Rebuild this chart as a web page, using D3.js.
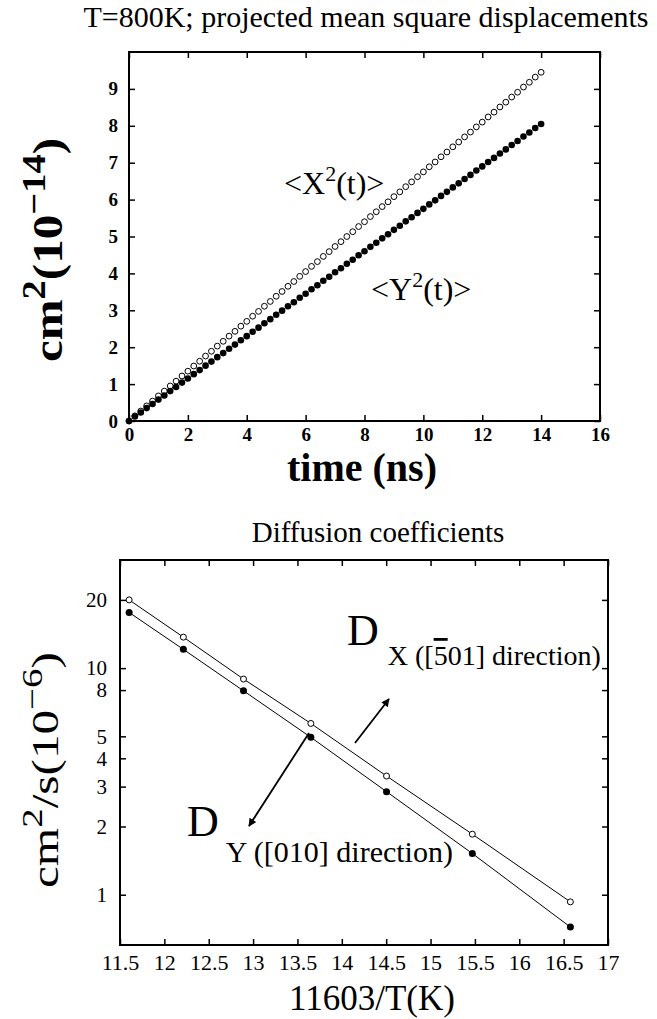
<!DOCTYPE html>
<html><head><meta charset="utf-8">
<script src="https://cdn.jsdelivr.net/npm/d3@7"></script>
<style>body{margin:0;background:#fff;} svg{display:block;} text{font-family:"Liberation Serif","Times New Roman",Times,"DejaVu Serif",serif;}</style>
</head><body>
<script>
// ---- Top chart data: projected mean square displacements (10^-14 cm^2) ----
const time = [0,0.2,0.4,0.6,0.8,1,1.2,1.4,1.6,1.8,2,2.2,2.4,2.6,2.8,3,3.2,3.4,3.6,3.8,4,4.2,4.4,4.6,4.8,5,5.2,5.4,5.6,5.8,6,6.2,6.4,6.6,6.8,7,7.2,7.4,7.6,7.8,8,8.2,8.4,8.6,8.8,9,9.2,9.4,9.6,9.8,10,10.2,10.4,10.6,10.8,11,11.2,11.4,11.6,11.8,12,12.2,12.4,12.6,12.8,13,13.2,13.4,13.6,13.8,14];
const msdX = [0,0.14,0.27,0.41,0.54,0.68,0.81,0.95,1.08,1.22,1.35,1.49,1.62,1.76,1.89,2.03,2.16,2.30,2.43,2.57,2.70,2.84,2.97,3.11,3.24,3.38,3.51,3.65,3.78,3.92,4.05,4.19,4.32,4.46,4.59,4.73,4.86,5.00,5.13,5.27,5.40,5.54,5.67,5.81,5.94,6.08,6.21,6.35,6.48,6.62,6.75,6.89,7.02,7.16,7.29,7.43,7.56,7.70,7.83,7.97,8.10,8.24,8.37,8.51,8.64,8.78,8.91,9.05,9.18,9.32,9.45];
const msdY = [0,0.12,0.23,0.35,0.46,0.58,0.69,0.81,0.92,1.04,1.15,1.27,1.38,1.50,1.61,1.73,1.84,1.96,2.07,2.19,2.30,2.42,2.53,2.65,2.76,2.88,2.99,3.11,3.22,3.34,3.45,3.57,3.68,3.80,3.91,4.03,4.14,4.26,4.37,4.49,4.60,4.72,4.83,4.95,5.06,5.18,5.29,5.41,5.52,5.64,5.75,5.87,5.98,6.10,6.21,6.33,6.44,6.56,6.67,6.79,6.90,7.02,7.13,7.25,7.36,7.48,7.59,7.71,7.82,7.94,8.05];
const topXTicks = [0,2,4,6,8,10,12,14,16];
const topYTicks = [0,1,2,3,4,5,6,7,8,9];

// ---- Bottom chart data: diffusion coefficients (10^-6 cm^2/s) ----
const invT = [11.603,12.214,12.892,13.651,14.504,15.471,16.576];
const Dx = [20.0,13.7,8.95,5.7,3.34,1.85,0.93];
const Dy = [17.6,12.1,7.94,4.95,2.85,1.52,0.72];
const botXTicks = [11.5,12,12.5,13,13.5,14,14.5,15,15.5,16,16.5,17];
const botYTicks = [1,2,3,4,5,8,10,20];

const SERIF = '"Liberation Serif","Times New Roman",Times,"DejaVu Serif",serif';
const W = 657, H = 1019;
const svg = d3.select("body").append("svg").attr("width", W).attr("height", H)
  .attr("font-family", SERIF);

function styleAxis(g, size, bold) {
  g.attr("font-family", SERIF);
  g.select(".domain").remove();
  g.selectAll("text").attr("font-size", size).attr("font-family", SERIF)
    .attr("font-weight", bold ? "bold" : "normal").attr("fill", "#000");
  g.selectAll(".tick line").attr("stroke", "#000").attr("stroke-width", 1.5);
}

// ================= TOP CHART =================
const t1 = {l:129, r:600, t:52, b:421};
const x1 = d3.scaleLinear().domain([0,16]).range([t1.l,t1.r]);
const y1 = d3.scaleLinear().domain([0,10]).range([t1.b,t1.t]);
const g1 = svg.append("g");

g1.append("g").attr("transform",`translate(0,${t1.b})`)
  .call(d3.axisBottom(x1).tickValues(topXTicks).tickSizeInner(-6).tickSizeOuter(0).tickPadding(7).tickFormat(d3.format("d")))
  .call(g=>styleAxis(g,19,true));
g1.append("g").attr("transform",`translate(0,${t1.t})`)
  .call(d3.axisTop(x1).tickValues(topXTicks).tickSizeInner(-6).tickSizeOuter(0).tickFormat(""))
  .call(g=>styleAxis(g,19,true));
g1.append("g").attr("transform",`translate(${t1.l},0)`)
  .call(d3.axisLeft(y1).tickValues(topYTicks).tickSizeInner(-6).tickSizeOuter(0).tickPadding(11).tickFormat(d3.format("d")))
  .call(g=>styleAxis(g,19,true));
g1.append("g").attr("transform",`translate(${t1.r},0)`)
  .call(d3.axisRight(y1).tickValues(topYTicks).tickSizeInner(-6).tickSizeOuter(0).tickFormat(""))
  .call(g=>styleAxis(g,19,true));
g1.append("rect").attr("x",t1.l).attr("y",t1.t).attr("width",t1.r-t1.l).attr("height",t1.b-t1.t)
  .attr("fill","none").attr("stroke","#000").attr("stroke-width",2);

g1.append("g").selectAll("circle").data(time).join("circle")
  .attr("cx",(d)=>x1(d)).attr("cy",(d,i)=>y1(msdX[i])).attr("r",2.9)
  .attr("fill","#fff").attr("stroke","#000").attr("stroke-width",1);
g1.append("g").selectAll("circle").data(time).join("circle")
  .attr("cx",(d)=>x1(d)).attr("cy",(d,i)=>y1(msdY[i])).attr("r",3.3)
  .attr("fill","#000");

// titles and labels
svg.append("text").attr("x",366).attr("y",27).attr("text-anchor","middle").attr("font-size",30).text("T=800K; projected mean square displacements");
svg.append("text").attr("x",362).attr("y",481).attr("text-anchor","middle").attr("font-size",40).attr("font-weight","bold").text("time (ns)");
{
  const t = svg.append("text").attr("transform","translate(62,250) rotate(-90)").attr("text-anchor","middle")
    .attr("font-size",42).attr("font-weight","bold").attr("textLength",224).attr("lengthAdjust","spacingAndGlyphs");
  t.append("tspan").text("cm");
  t.append("tspan").attr("dy",-17).attr("font-size",33).text("2");
  t.append("tspan").attr("dy",17).text("(10");
  t.append("tspan").attr("dy",-17).attr("font-size",33).text("\u221214");
  t.append("tspan").attr("dy",17).text(")");
}
{
  const t = svg.append("text").attr("x",284).attr("y",194).attr("font-size",32);
  t.append("tspan").text("<X");
  t.append("tspan").attr("dy",-13).attr("font-size",22).text("2");
  t.append("tspan").attr("dy",13).text("(t)>");
}
{
  const t = svg.append("text").attr("x",371).attr("y",300).attr("font-size",32);
  t.append("tspan").text("<Y");
  t.append("tspan").attr("dy",-13).attr("font-size",22).text("2");
  t.append("tspan").attr("dy",13).text("(t)>");
}

// ================= BOTTOM CHART =================
const b2 = {l:120, r:608, t:560, b:945};
const x2 = d3.scaleLinear().domain([11.5,17]).range([b2.l,b2.r]);
const y2 = d3.scaleLog().domain([0.6,30]).range([b2.b,b2.t]);
const g2 = svg.append("g");
g2.append("g").attr("transform",`translate(0,${b2.b})`)
  .call(d3.axisBottom(x2).tickValues(botXTicks).tickSizeInner(-6).tickSizeOuter(0).tickPadding(9).tickFormat(d=>String(d)))
  .call(g=>styleAxis(g,22,false));
g2.append("g").attr("transform",`translate(0,${b2.t})`)
  .call(d3.axisTop(x2).tickValues(botXTicks).tickSizeInner(-6).tickSizeOuter(0).tickFormat(""))
  .call(g=>styleAxis(g,22,false));
g2.append("g").attr("transform",`translate(${b2.l},0)`)
  .call(d3.axisLeft(y2).tickValues(botYTicks).tickSizeInner(-6).tickSizeOuter(0).tickPadding(13).tickFormat(d=>String(d)))
  .call(g=>styleAxis(g,21,false));
g2.append("g").attr("transform",`translate(${b2.r},0)`)
  .call(d3.axisRight(y2).tickValues(botYTicks).tickSizeInner(-6).tickSizeOuter(0).tickFormat(""))
  .call(g=>styleAxis(g,22,false));
g2.append("rect").attr("x",b2.l).attr("y",b2.t).attr("width",b2.r-b2.l).attr("height",b2.b-b2.t)
  .attr("fill","none").attr("stroke","#000").attr("stroke-width",2);

const lineD = d3.line().x((d,i)=>x2(invT[i])).y(d=>y2(d));
g2.append("path").datum(Dx).attr("d",lineD).attr("fill","none").attr("stroke","#000").attr("stroke-width",1);
g2.append("path").datum(Dy).attr("d",lineD).attr("fill","none").attr("stroke","#000").attr("stroke-width",1);
g2.append("g").selectAll("circle").data(Dx).join("circle")
  .attr("cx",(d,i)=>x2(invT[i])).attr("cy",d=>y2(d)).attr("r",3)
  .attr("fill","#fff").attr("stroke","#000").attr("stroke-width",1);
g2.append("g").selectAll("circle").data(Dy).join("circle")
  .attr("cx",(d,i)=>x2(invT[i])).attr("cy",d=>y2(d)).attr("r",3.5).attr("fill","#000");

svg.append("text").attr("x",378).attr("y",542).attr("text-anchor","middle").attr("font-size",29).text("Diffusion coefficients");
svg.append("text").attr("x",372).attr("y",1010).attr("text-anchor","middle").attr("font-size",35).text("11603/T(K)");
{
  const t = svg.append("text").attr("transform","translate(58,770) rotate(-90)").attr("text-anchor","middle")
    .attr("font-size",38).attr("textLength",236).attr("lengthAdjust","spacingAndGlyphs");
  t.append("tspan").text("cm");
  t.append("tspan").attr("dy",-16).attr("font-size",30).text("2");
  t.append("tspan").attr("dy",16).text("/s(10");
  t.append("tspan").attr("dy",-16).attr("font-size",30).text("\u22126");
  t.append("tspan").attr("dy",16).text(")");
}
// arrows
const defs = svg.append("defs");
defs.append("marker").attr("id","ah").attr("viewBox","0 0 10 10").attr("refX",9).attr("refY",5)
  .attr("markerWidth",14).attr("markerHeight",8).attr("markerUnits","userSpaceOnUse").attr("orient","auto")
  .append("path").attr("d","M0,0 L10,5 L0,10 z").attr("fill","#000");
svg.append("line").attr("x1",355).attr("y1",743).attr("x2",389).attr("y2",699).attr("stroke","#000").attr("stroke-width",1.8).attr("marker-end","url(#ah)");
svg.append("line").attr("x1",309).attr("y1",733).attr("x2",249).attr("y2",826).attr("stroke","#000").attr("stroke-width",1.8).attr("marker-end","url(#ah)");

{
  const t = svg.append("text").attr("x",347).attr("y",645).attr("font-size",44);
  t.append("tspan").text("D");
  t.append("tspan").attr("dy",20).attr("dx",9).attr("font-size",28).text("X ([");
  t.append("tspan").attr("font-size",28).attr("text-decoration","overline").text("5");
  t.append("tspan").attr("font-size",28).text("01] direction)");
}
{
  const t = svg.append("text").attr("x",187).attr("y",836).attr("font-size",44);
  t.append("tspan").text("D");
  t.append("tspan").attr("dy",26).attr("dx",7).attr("font-size",30).text("Y ([010] direction)");
}
</script>
</body></html>
